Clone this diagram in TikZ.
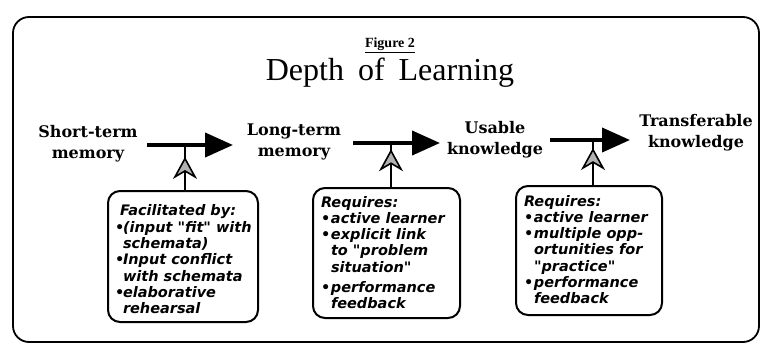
\documentclass[tikz,border=0pt]{standalone}
\usepackage{fontspec}
\setmainfont{Liberation Serif}
\newfontfamily\labfont{DejaVu Serif}
\newfontfamily\boxfont{DejaVu Sans}
\usetikzlibrary{arrows.meta,decorations.markings}
\newcommand\itm{\makebox[10pt][l]{\textbullet}}
\newcommand\itmA{\makebox[8pt][l]{\textbullet}}
\newcommand\cnt{\hspace*{10pt}}
\newcommand\cntA{\hspace*{8pt}}
\begin{document}
\begin{tikzpicture}[x=1pt,y=-1pt,
  lab/.style={font=\labfont\bfseries\fontsize{16}{21}\selectfont, align=center, inner sep=0},
  mainarrow/.style={line width=4pt, -{Triangle[length=28pt,width=24pt]}},
  infobox/.style={draw, line width=2pt, rounded corners=12pt, inner sep=0, anchor=north west,
    font=\boxfont\bfseries\itshape\fontsize{14.5}{16.2}\selectfont},
  feed/.style={line width=1.6pt, postaction={decorate},
    decoration={markings, mark=at position #1 with {\arrow{Stealth[length=22pt,width=24pt,inset=7pt,fill=gray!60]}}}},
]
\useasboundingbox (0,0) rectangle (761,345);
\draw[line width=1.8pt, rounded corners=16pt] (13,17) rectangle (759,342);

\node[font=\bfseries\fontsize{14}{16}\selectfont] (fig) at (390,45) {\underline{Figure 2}};
\node[font=\fontsize{32}{36}\selectfont] (title) at (390,73) {Depth\hspace{6pt} of\hspace{6pt} Learning};

\node[lab] (stm) at (88,144) {Short-term\\memory};
\node[lab] (ltm) at (294,142) {Long-term\\memory};
\node[lab] (uk) at (495,140) {Usable\\knowledge};
\node[lab] (tk) at (696,133) {Transferable\\knowledge};

\coordinate (a1s) at (147,145); \coordinate (a1e) at (233,145);
\coordinate (a2s) at (353,143); \coordinate (a2e) at (440,143);
\coordinate (a3s) at (550,140); \coordinate (a3e) at (630,140);
\draw[mainarrow] (a1s) -- (a1e);
\draw[mainarrow] (a2s) -- (a2e);
\draw[mainarrow] (a3s) -- (a3e);

\node[infobox] (box1) at (107,190) {\parbox[c][131pt][t]{150pt}{\vspace*{13pt}\hspace*{7pt}%
\renewcommand\arraystretch{1}\begin{tabular}[t]{@{}l@{}}
\hspace*{5pt}Facilitated by:\\[1pt]
\itmA(input "fit" with\\
\cntA schemata)\\
\itmA Input conflict\\
\cntA with schemata\\
\itmA elaborative\\
\cntA rehearsal
\end{tabular}}};

\node[infobox] (box2) at (312,187) {\parbox[c][130pt][t]{147pt}{\vspace*{8pt}\hspace*{8pt}%
\begin{tabular}[t]{@{}l@{}}
Requires:\\
\itm active learner\\
\itm explicit link\\
\cnt to "problem\\
\cnt situation"\\[4pt]
\itm performance\\
\cnt feedback
\end{tabular}}};

\node[infobox] (box3) at (515,185) {\parbox[c][129pt][t]{146pt}{\vspace*{9pt}\hspace*{8pt}%
\begin{tabular}[t]{@{}l@{}}
Requires:\\
\itm active learner\\
\itm multiple opp-\\
\cnt ortunities for\\
\cnt "practice"\\
\itm performance\\
\cnt feedback
\end{tabular}}};

\coordinate (f1) at (185,147);
\coordinate (f2) at (391,145);
\coordinate (f3) at (593,142);
\draw[feed=0.77] (box1.north -| f1) -- (f1);
\draw[feed=0.9] (box2.north -| f2) -- (f2);
\draw[feed=0.86] (box3.north -| f3) -- (f3);
\end{tikzpicture}
\end{document}
